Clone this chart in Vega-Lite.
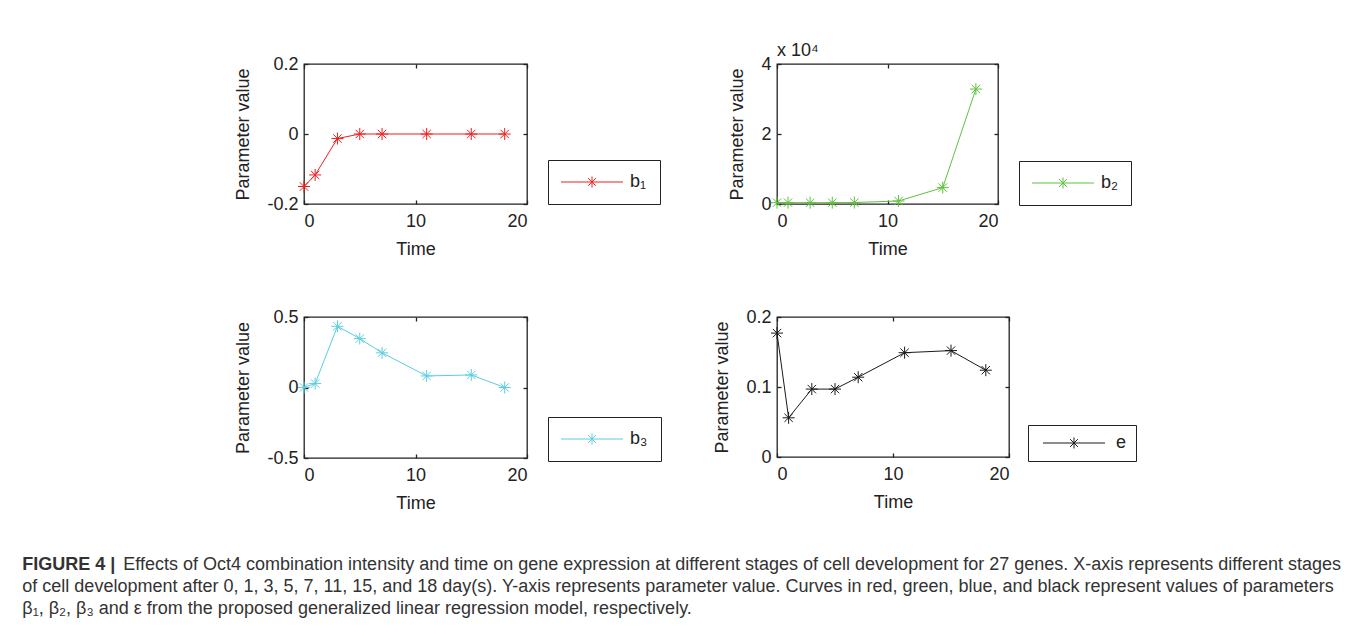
{
  "$schema": "https://vega.github.io/schema/vega-lite/v6.json",
  "background": "white",
  "padding": {"left": 22, "top": 41, "right": 0, "bottom": 0},
  "datasets": {
    "b1": [
      {"t": 0, "v": -0.15, "series": "b₁"}, {"t": 1, "v": -0.117, "series": "b₁"}, {"t": 3, "v": -0.013, "series": "b₁"},
      {"t": 5, "v": 0.0, "series": "b₁"}, {"t": 7, "v": 0.0, "series": "b₁"}, {"t": 11, "v": 0.0, "series": "b₁"},
      {"t": 15, "v": 0.0, "series": "b₁"}, {"t": 18, "v": 0.0, "series": "b₁"}
    ],
    "b2": [
      {"t": 0, "v": 380, "series": "b₂"}, {"t": 1, "v": 380, "series": "b₂"}, {"t": 3, "v": 380, "series": "b₂"},
      {"t": 5, "v": 380, "series": "b₂"}, {"t": 7, "v": 420, "series": "b₂"}, {"t": 11, "v": 860, "series": "b₂"},
      {"t": 15, "v": 4680, "series": "b₂"}, {"t": 18, "v": 32840, "series": "b₂"}
    ],
    "b3": [
      {"t": 0, "v": 0.0, "series": "b₃"}, {"t": 1, "v": 0.028, "series": "b₃"}, {"t": 3, "v": 0.434, "series": "b₃"},
      {"t": 5, "v": 0.347, "series": "b₃"}, {"t": 7, "v": 0.246, "series": "b₃"}, {"t": 11, "v": 0.082, "series": "b₃"},
      {"t": 15, "v": 0.089, "series": "b₃"}, {"t": 18, "v": 0.0, "series": "b₃"}
    ],
    "e": [
      {"t": 0, "v": 0.177, "series": "e"}, {"t": 1, "v": 0.056, "series": "e"}, {"t": 3, "v": 0.097, "series": "e"},
      {"t": 5, "v": 0.097, "series": "e"}, {"t": 7, "v": 0.114, "series": "e"}, {"t": 11, "v": 0.149, "series": "e"},
      {"t": 15, "v": 0.152, "series": "e"}, {"t": 18, "v": 0.124, "series": "e"}
    ]
  },
  "title": {
    "text": "Effects of Oct4 combination intensity and time on gene expression at different stages of cell development for 27 genes. X-axis represents different stages",
    "orient": "bottom",
    "anchor": "start",
    "font": "Liberation Sans",
    "fontSize": 18,
    "fontWeight": "normal",
    "color": "#333333",
    "offset": 0,
    "dy": -62,
    "dx": 101
  },
  "vconcat": [
    {
      "title": {
        "text": "FIGURE 4 |",
        "subtitle": [
          "of cell development after 0, 1, 3, 5, 7, 11, 15, and 18 day(s). Y-axis represents parameter value. Curves in red, green, blue, and black represent values of parameters",
          "β₁, β₂, β₃ and ε from the proposed generalized linear regression model, respectively."
        ],
        "orient": "bottom",
        "anchor": "start",
        "font": "Liberation Sans",
        "fontSize": 18,
        "fontWeight": "bold",
        "color": "#333333",
        "subtitleFont": "Liberation Sans",
        "subtitleFontSize": 18,
        "subtitleColor": "#333333",
        "subtitleLineHeight": 22,
        "subtitlePadding": 4,
        "offset": 43,
        "dx": -212
      },
      "concat": [
        {
          "width": 223, "height": 140,
          "data": {"name": "b1"},
          "layer": [
            {
              "mark": {"type": "line", "strokeWidth": 1},
              "encoding": {
                "x": {"field": "t", "type": "quantitative", "scale": {"domain": [0, 20], "nice": false}, "axis": {"orient": "bottom", "values": [0, 10, 20], "title": "Time"}},
                "y": {"field": "v", "type": "quantitative", "scale": {"domain": [-0.2, 0.2], "nice": false, "zero": false}, "axis": {"orient": "left", "values": [-0.2, 0, 0.2], "format": "~g", "labelExpr": "replace(datum.label, '\u2212', '-')", "title": "Parameter value"}},
                "color": {"field": "series", "type": "nominal", "scale": {"range": ["#f01e1e"]}, "legend": {"legendX": 244, "legendY": 96}}
              }
            },
            {
              "mark": {"type": "point", "shape": "M-1,0L1,0M0,-1L0,1M-0.7,-0.7L0.7,0.7M-0.7,0.7L0.7,-0.7", "size": 144, "strokeWidth": 1, "filled": false, "opacity": 1},
              "encoding": {
                "x": {"field": "t", "type": "quantitative", "axis": {"orient": "top", "values": [0, 10, 20], "labels": false, "title": null}},
                "y": {"field": "v", "type": "quantitative", "axis": {"orient": "right", "values": [-0.2, 0, 0.2], "labels": false, "title": null}},
                "color": {"field": "series", "type": "nominal"}
              }
            }
          ],
          "resolve": {"axis": {"x": "independent", "y": "independent"}}
        },
        {
          "width": 221, "height": 140,
          "title": {"text": "x 10⁴", "anchor": "start", "frame": "group", "fontSize": 18, "fontWeight": "normal", "font": "Liberation Sans", "color": "#222222", "offset": -5},
          "data": {"name": "b2"},
          "layer": [
            {
              "mark": {"type": "line", "strokeWidth": 1},
              "encoding": {
                "x": {"field": "t", "type": "quantitative", "scale": {"domain": [0, 20], "nice": false}, "axis": {"orient": "bottom", "values": [0, 10, 20], "title": "Time"}},
                "y": {"field": "v", "type": "quantitative", "scale": {"domain": [0, 40000], "nice": false}, "axis": {"orient": "left", "values": [0, 20000, 40000], "labelExpr": "format(datum.value / 10000, '~g')", "title": "Parameter value"}},
                "color": {"field": "series", "type": "nominal", "scale": {"range": ["#5ec23c"]}, "legend": {"legendX": 242, "legendY": 97}}
              }
            },
            {
              "mark": {"type": "point", "shape": "M-1,0L1,0M0,-1L0,1M-0.7,-0.7L0.7,0.7M-0.7,0.7L0.7,-0.7", "size": 144, "strokeWidth": 1, "filled": false, "opacity": 1},
              "encoding": {
                "x": {"field": "t", "type": "quantitative", "axis": {"orient": "top", "values": [0, 10, 20], "labels": false, "title": null}},
                "y": {"field": "v", "type": "quantitative", "axis": {"orient": "right", "values": [0, 20000, 40000], "labels": false, "title": null}},
                "color": {"field": "series", "type": "nominal"}
              }
            }
          ],
          "resolve": {"axis": {"x": "independent", "y": "independent"}}
        },
        {
          "width": 223, "height": 141,
          "data": {"name": "b3"},
          "layer": [
            {
              "mark": {"type": "line", "strokeWidth": 1},
              "encoding": {
                "x": {"field": "t", "type": "quantitative", "scale": {"domain": [0, 20], "nice": false}, "axis": {"orient": "bottom", "values": [0, 10, 20], "title": "Time"}},
                "y": {"field": "v", "type": "quantitative", "scale": {"domain": [-0.5, 0.5], "nice": false, "zero": false}, "axis": {"orient": "left", "values": [-0.5, 0, 0.5], "format": "~g", "labelExpr": "replace(datum.label, '\u2212', '-')", "title": "Parameter value"}},
                "color": {"field": "series", "type": "nominal", "scale": {"range": ["#5ccde0"]}, "legend": {"legendX": 244, "legendY": 100}}
              }
            },
            {
              "mark": {"type": "point", "shape": "M-1,0L1,0M0,-1L0,1M-0.7,-0.7L0.7,0.7M-0.7,0.7L0.7,-0.7", "size": 144, "strokeWidth": 1, "filled": false, "opacity": 1},
              "encoding": {
                "x": {"field": "t", "type": "quantitative", "axis": {"orient": "top", "values": [0, 10, 20], "labels": false, "title": null}},
                "y": {"field": "v", "type": "quantitative", "axis": {"orient": "right", "values": [-0.5, 0, 0.5], "labels": false, "title": null}},
                "color": {"field": "series", "type": "nominal"}
              }
            }
          ],
          "resolve": {"axis": {"x": "independent", "y": "independent"}}
        },
        {
          "width": 232, "height": 140,
          "data": {"name": "e"},
          "layer": [
            {
              "mark": {"type": "line", "strokeWidth": 1},
              "encoding": {
                "x": {"field": "t", "type": "quantitative", "scale": {"domain": [0, 20], "nice": false}, "axis": {"orient": "bottom", "values": [0, 10, 20], "title": "Time"}},
                "y": {"field": "v", "type": "quantitative", "scale": {"domain": [0, 0.2], "nice": false}, "axis": {"orient": "left", "values": [0, 0.1, 0.2], "format": "~g", "title": "Parameter value"}},
                "color": {"field": "series", "type": "nominal", "scale": {"range": ["#1a1a1a"]}, "legend": {"legendX": 251, "legendY": 108, "padding": 9, "symbolOffset": 28, "labelOffset": 33}}
              }
            },
            {
              "mark": {"type": "point", "shape": "M-1,0L1,0M0,-1L0,1M-0.7,-0.7L0.7,0.7M-0.7,0.7L0.7,-0.7", "size": 144, "strokeWidth": 1, "filled": false, "opacity": 1},
              "encoding": {
                "x": {"field": "t", "type": "quantitative", "axis": {"orient": "top", "values": [0, 10, 20], "labels": false, "title": null}},
                "y": {"field": "v", "type": "quantitative", "axis": {"orient": "right", "values": [0, 0.1, 0.2], "labels": false, "title": null}},
                "color": {"field": "series", "type": "nominal"}
              }
            }
          ],
          "resolve": {"axis": {"x": "independent", "y": "independent"}}
        }
      ],
      "columns": 2,
      "align": "each",
      "spacing": {"column": 50, "row": 48},
      "resolve": {"scale": {"color": "independent"}, "legend": {"color": "independent"}}
    }
  ],
  "config": {
    "font": "Liberation Sans",
    "view": {"stroke": "#222222", "strokeWidth": 1.3},
    "axis": {
      "domain": false,
      "grid": false,
      "ticks": true,
      "tickColor": "#222222",
      "tickSize": -4,
      "tickWidth": 1.3,
      "labelFont": "Liberation Sans",
      "labelFontSize": 18,
      "labelColor": "#222222",
      "labelPadding": 10,
      "titleFont": "Liberation Sans",
      "titleFontSize": 18,
      "titleFontWeight": "normal",
      "titleColor": "#222222",
      "titlePadding": 14
    },
    "axisX": {"labelPadding": 12, "titlePadding": 10},
    "legend": {
      "orient": "none",
      "title": null,
      "strokeColor": "#222222",
      "fillColor": "white",
      "padding": 13,
      "symbolType": "M-5.64,0L5.64,0M0,-1L0,1M-0.7,-0.7L0.7,0.7M-0.7,0.7L0.7,-0.7",
      "symbolSize": 121,
      "symbolStrokeWidth": 1,
      "symbolOffset": 22,
      "labelOffset": 29,
      "labelFont": "Liberation Sans",
      "labelFontSize": 18,
      "labelColor": "#222222"
    }
  }
}
